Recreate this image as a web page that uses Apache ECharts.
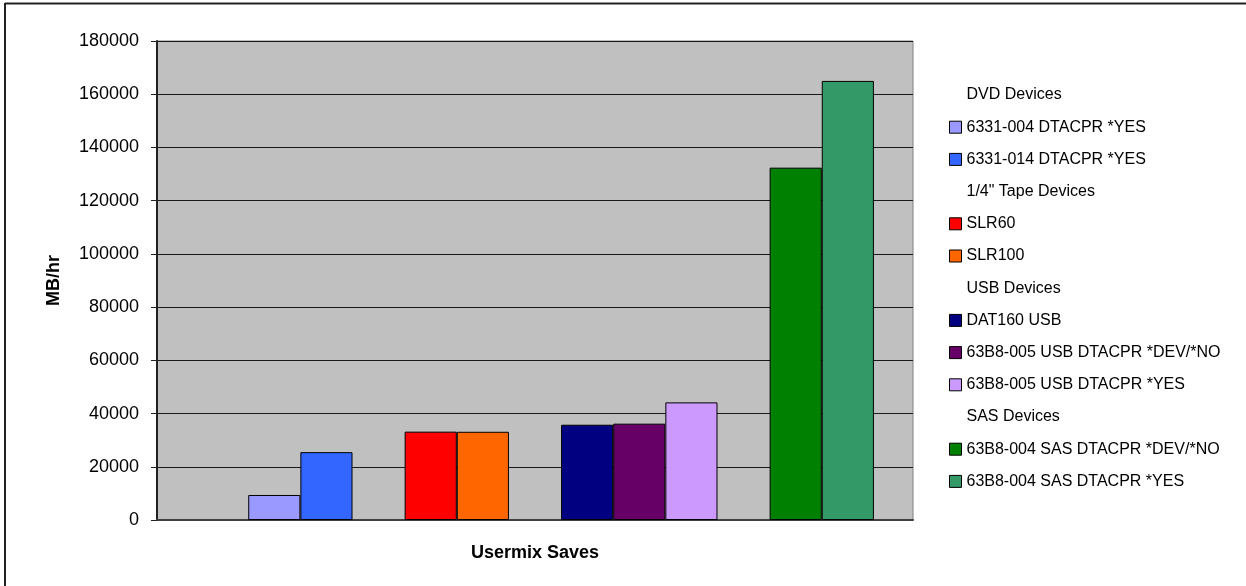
<!DOCTYPE html>
<html>
<head>
<meta charset="utf-8">
<script src="https://cdn.jsdelivr.net/npm/echarts@6/dist/echarts.min.js"></script>
<style>
html,body{margin:0;padding:0;background:#fff;}
#chart{width:1246px;height:586px;}
</style>
</head>
<body>
<div id="chart"></div>
<script>
// ---- data ----
var categories = ['Usermix Saves'];
// header entries (group titles) carry no value: null
var seriesNames = [
  'DVD Devices',
  '6331-004 DTACPR *YES',
  '6331-014 DTACPR *YES',
  '1/4" Tape Devices',
  'SLR60',
  'SLR100',
  'USB Devices',
  'DAT160 USB',
  '63B8-005 USB DTACPR *DEV/*NO',
  '63B8-005 USB DTACPR *YES',
  'SAS Devices',
  '63B8-004 SAS DTACPR *DEV/*NO',
  '63B8-004 SAS DTACPR *YES'
];
var seriesValues = [null, 9400, 25500, null, 33200, 33150, null, 35800, 36200, 44200, null, 132400, 165000];
var isHeader = [true, false, false, true, false, false, true, false, false, false, true, false, false];
var yMin = 0, yMax = 180000, yInterval = 20000;

// ---- styles ----
var seriesColors = ['#C0C0C0', '#9999FF', '#3366FF', '#C0C0C0', '#FF0000', '#FF6600', '#C0C0C0',
  '#000080', '#660066', '#CC99FF', '#C0C0C0', '#008000', '#339966'];
var FONT = '"Liberation Sans", Arial, sans-serif';

var chart = echarts.init(document.getElementById('chart'), null, {renderer: 'canvas'});

var series = seriesNames.map(function (name, i) {
  return {
    name: name,
    type: 'bar',
    data: [seriesValues[i] === null ? '-' : seriesValues[i]],
    barGap: '0%',
    barCategoryGap: '10.34%',
    itemStyle: {color: seriesColors[i], borderColor: '#000', borderWidth: 1},
    emphasis: {disabled: true},
    animation: false
  };
});

var legendData = seriesNames.map(function (name, i) {
  if (isHeader[i]) return {name: name, icon: 'none'};
  return {name: name, icon: 'rect'};
});

chart.setOption({
  animation: false,
  backgroundColor: '#ffffff',
  textStyle: {fontFamily: FONT},
  grid: {
    left: 157, right: 333, top: 41, bottom: 66,
    show: true, backgroundColor: '#C0C0C0', borderColor: '#808080', borderWidth: 1,
    containLabel: false
  },
  legend: {
    orient: 'vertical',
    left: 944, top: 80,
    itemWidth: 12, itemHeight: 12, itemGap: 12.2,
    selectedMode: false,
    itemStyle: {borderColor: '#000', borderWidth: 1},
    textStyle: {fontFamily: FONT, fontSize: 16, color: '#000', lineHeight: 20},
    data: legendData
  },
  xAxis: {
    type: 'category',
    data: categories,
    name: 'Usermix Saves',
    nameLocation: 'middle',
    nameGap: 24,
    nameTextStyle: {fontFamily: FONT, fontSize: 18, fontWeight: 'bold', color: '#000'},
    axisLine: {show: true, lineStyle: {color: '#404040', width: 2}},
    axisTick: {show: false},
    axisLabel: {show: false},
    splitLine: {show: false}
  },
  yAxis: {
    type: 'value',
    min: yMin, max: yMax, interval: yInterval,
    name: 'MB/hr',
    nameLocation: 'middle',
    nameGap: 94,
    nameRotate: 90,
    nameTextStyle: {fontFamily: FONT, fontSize: 18, fontWeight: 'bold', color: '#000'},
    axisLine: {show: true, lineStyle: {color: '#222', width: 2}},
    axisTick: {show: true, length: 6, lineStyle: {color: '#222', width: 1}},
    axisLabel: {fontFamily: FONT, fontSize: 18, color: '#000', margin: 18,
      formatter: function (v) { return String(v); }},
    splitLine: {show: true, lineStyle: {color: '#1a1a1a', width: 1}}
  },
  graphic: [
    {type: 'line', shape: {x1: 5, y1: 3.5, x2: 1246, y2: 3.5}, style: {stroke: '#222', lineWidth: 2}, silent: true},
    {type: 'line', shape: {x1: 5, y1: 3, x2: 5, y2: 586}, style: {stroke: '#222', lineWidth: 2}, silent: true}
  ],
  series: series
});
</script>
</body>
</html>
